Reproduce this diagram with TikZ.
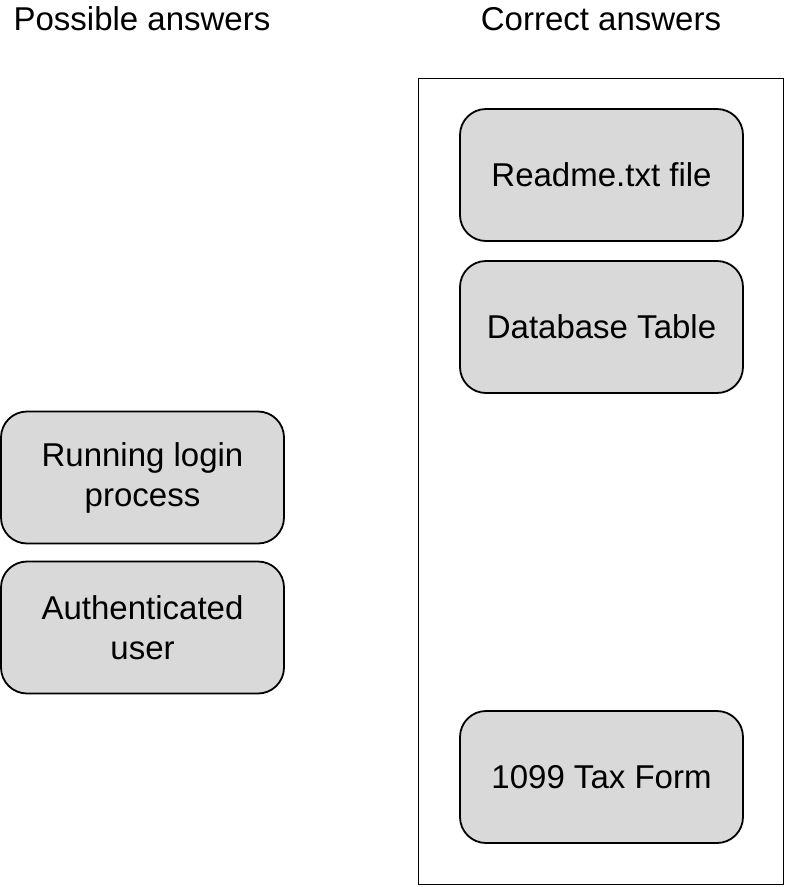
\documentclass[tikz,border=0pt]{standalone}
\usepackage{fontspec}
\setmainfont{Liberation Sans}
\begin{document}
\begin{tikzpicture}[x=1pt,y=-1pt,
  answerbox/.style={draw=black, line width=1.8pt, fill=boxgray, rounded corners=26pt,
    minimum width=283pt, minimum height=132pt, align=center, inner sep=0pt,
    font=\fontsize{33}{40}\selectfont},
  header/.style={anchor=base, inner sep=0pt, font=\fontsize{33}{40}\selectfont}]
\definecolor{boxgray}{HTML}{D9D9D9}
\useasboundingbox (0,0) rectangle (788,887);
\node[header] (hl) at (142,30) {Possible answers};
\node[header] (hr) at (601,30) {Correct answers};
\node[draw=black, line width=1.8pt, minimum width=365pt, minimum height=806pt, inner sep=0pt] (frame) at (601,481.5) {};
\node[answerbox] (readme) at (601.5,175) {Readme.txt file};
\node[answerbox] (db) at (601.5,327) {Database Table};
\node[answerbox] (tax) at (601.5,777) {1099 Tax Form};
\node[answerbox] (login) at (142.5,477.5) {Running login\\process};
\node[answerbox] (auth) at (142.5,627.5) {Authenticated\\user};
\end{tikzpicture}
\end{document}
